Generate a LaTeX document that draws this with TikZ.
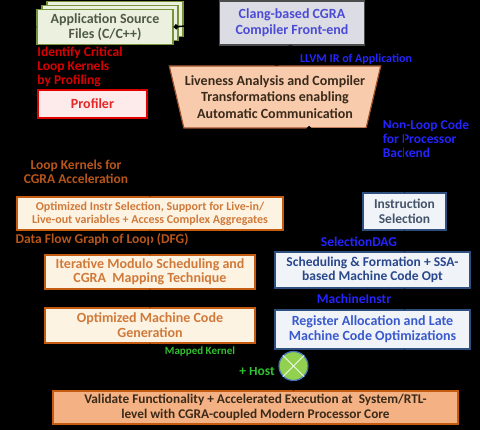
\documentclass[tikz,border=0pt]{standalone}
\usepackage{fontspec}
\setmainfont{Carlito}
\usetikzlibrary{shapes.geometric,shadows,arrows.meta}
\definecolor{appfill}{HTML}{EBF1DE}
\definecolor{appdraw}{HTML}{77933C}
\definecolor{apptext}{HTML}{4F5A45}
\definecolor{clangfill}{HTML}{DCDCE4}
\definecolor{clangtext}{HTML}{4B4BD6}
\definecolor{livefill}{HTML}{F8CBAD}
\definecolor{livedraw}{HTML}{A0522D}
\definecolor{darktext}{HTML}{3A2A1A}
\definecolor{proffill}{HTML}{FDEAEA}
\definecolor{profred}{HTML}{E00000}
\definecolor{creamfill}{HTML}{FDF3E3}
\definecolor{cgradraw}{HTML}{C55A11}
\definecolor{cgratext}{HTML}{D07A3A}
\definecolor{procfill}{HTML}{F0F3F8}
\definecolor{procdraw}{HTML}{2F4F7F}
\definecolor{proctext}{HTML}{44546A}
\definecolor{regtext}{HTML}{3A5ACD}
\definecolor{validfill}{HTML}{F4B183}
\definecolor{labred}{HTML}{D80000}
\definecolor{labblue}{HTML}{2424FF}
\definecolor{laborange}{HTML}{B8561A}
\definecolor{labgreen}{HTML}{30C030}
\definecolor{mergefill}{HTML}{92D050}
\definecolor{mergedraw}{HTML}{4472C4}
\begin{document}
\begin{tikzpicture}[x=1pt,y=-1pt,
	box/.style={draw,line width=1.2pt,align=center,inner sep=1pt,font=\bfseries\fontsize{14}{15}\selectfont},
	cgrabox/.style={box,fill=creamfill,draw=cgradraw,text=cgratext},
	procbox/.style={box,fill=procfill,draw=procdraw,text=proctext},
	tag/.style={font=\bfseries\fontsize{13.5}{14}\selectfont,inner sep=0pt},
	conn/.style={line width=1.5pt,black,{Circle[length=5pt]}-{Circle[length=5pt]}}]
		\useasboundingbox (0,0) rectangle (480,430);
		\fill[black] (0,0) rectangle (480,430);
		\node (app) at (105,27) [box,fill=appfill,draw=appdraw,text=apptext,minimum width=136pt,minimum height=35pt,
			double copy shadow={shadow xshift=5pt,shadow yshift=4pt,fill=appfill,draw=appdraw,line width=1.2pt}] {Application Source\\Files (C/C++)};
		\node (clang) at (292,23) [box,fill=clangfill,draw=black!70,text=clangtext,minimum width=145pt,minimum height=44pt,font=\bfseries\fontsize{14}{16}\selectfont] {Clang-based CGRA\\Compiler Front-end};
		\node (live) at (275,97) [box,trapezium,shape border rotate=180,trapezium angle=72,trapezium stretches body,
			fill=livefill,draw=livedraw,text=darktext,minimum width=206pt,minimum height=62pt,font=\bfseries\fontsize{14}{16.5}\selectfont] {Liveness Analysis and Compiler\\Transformations enabling\\Automatic Communication};
		\node (prof) at (92.5,104) [box,fill=proffill,draw=profred,text=profred!85!white,minimum width=109pt,minimum height=28pt] {Profiler};
		\node (optsel) at (150,213.5) [cgrabox,minimum width=266pt,minimum height=33pt,font=\bfseries\fontsize{12}{13}\selectfont] {Optimized Instr Selection, Support for Live-in/\\Live-out variables + Access Complex Aggregates};
		\node (modulo) at (150,272) [cgrabox,minimum width=210pt,minimum height=34pt,font=\bfseries\fontsize{14}{14.5}\selectfont] {Iterative Modulo Scheduling and\\CGRA\ \ Mapping Technique};
		\node (mcgen) at (150,325.5) [cgrabox,minimum width=210pt,minimum height=35pt] {Optimized Machine Code\\Generation};
		\node (isel) at (404.5,211.5) [procbox,minimum width=83pt,minimum height=37pt,font=\bfseries\fontsize{13.5}{14.5}\selectfont] {Instruction\\Selection};
		\node (sched) at (372.5,270) [procbox,text=procdraw!90!blue,minimum width=195pt,minimum height=36pt,font=\bfseries\fontsize{13.5}{14.5}\selectfont] {Scheduling \& Formation + SSA-\\based Machine Code Opt};
		\node (regalloc) at (372.5,329.5) [procbox,text=regtext,minimum width=195pt,minimum height=39pt] {Register Allocation and Late\\Machine Code Optimizations};
		\node (merge) at (293.5,366) [circle,draw=mergedraw,line width=1.2pt,fill=mergefill,minimum size=29pt,inner sep=0pt] {};
		\draw[white!85!mergefill,line width=0.8pt] (merge.north west) -- (merge.south east) (merge.north east) -- (merge.south west);
		\node (valid) at (255.5,407.5) [box,fill=validfill,draw=cgradraw,text=darktext,minimum width=405pt,minimum height=33pt,font=\bfseries\fontsize{13.3}{14.5}\selectfont] {Validate Functionality + Accelerated Execution at\ \ System/RTL-\\level with CGRA-coupled Modern Processor Core};
		\node (hotloops) at (80,67) [tag,text=labred,align=left] {Identify Critical\\Loop Kernels\\by Profiling};
		\node (irlab) at (356,59) [tag,text=labblue,font=\bfseries\fontsize{12}{13}\selectfont] {LLVM IR of Application};
		\node (hostlab) at (426,139) [tag,text=labblue,align=left] {Non-Loop Code\\for Processor\\Backend};
		\node (kernlab) at (76,172) [tag,text=laborange,align=center] {Loop Kernels for\\CGRA Acceleration};
		\node (dfglab) at (102,240) [tag,text=laborange] {Data Flow Graph of Loop (DFG)};
		\node (daglab) at (359,242) [tag,text=labblue] {SelectionDAG};
		\node (milab) at (354,299) [tag,text=labblue] {MachineInstr};
		\node (cgrabin) at (200,352) [tag,text=labgreen,font=\bfseries\fontsize{11}{12}\selectfont] {Mapped Kernel};
		\node (hostbin) at (257,371) [tag,text=labgreen] {+ Host};
		\draw[conn] (app.east) -- (clang.west);
		\draw[conn] ([xshift=-8pt]prof.north east) -- ([xshift=-8pt]prof.north east |- app.south);
		\draw[conn] (prof.west) -- ++(-4,0) |- (app.west);
		\draw[conn] (clang.south) -- (live.north);
		\draw[conn] (live.west) -| (optsel.north);
		\draw[conn] (live.south east) -| (isel.north);
		\draw[conn] (optsel.south) -- (modulo.north);
		\draw[conn] (modulo.south) -- (mcgen.north);
		\draw[conn] (mcgen.south) |- (merge.west);
		\draw[conn] (isel.south) -- (isel.south |- sched.north);
		\draw[conn] (sched.south -| isel.south) -- (regalloc.north -| isel.south);
		\draw[conn] (regalloc.south -| isel.south) |- (merge.east);
		\draw[conn] (merge.south) -- (valid.north -| merge.south);
	\end{tikzpicture}
\end{document}
